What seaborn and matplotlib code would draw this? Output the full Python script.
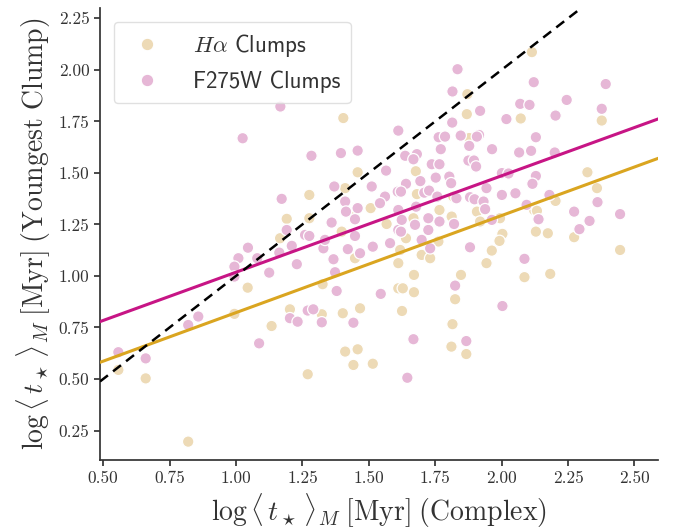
import matplotlib
matplotlib.use("Agg")
import matplotlib.pyplot as plt
import seaborn as sns
import pandas as pd
import numpy as np

# ---------------- data ----------------
ha_x = [1.404, 1.458, 1.411, 1.276, 1.507, 1.191, 1.276, 1.567, 1.166, 1.398,
        1.448, 1.611, 1.044, 1.326, 1.611, 1.467, 1.402, 1.203, 1.323, 1.134,
        0.994, 1.411, 1.458, 1.442, 1.515, 1.270, 0.557, 0.660, 0.820, 2.114,
        1.871, 1.869, 2.072, 2.377, 1.677, 2.323, 2.359, 1.681, 1.818, 1.907,
        2.203, 2.122, 2.133, 1.994, 2.003, 1.992, 1.963, 1.943, 2.129, 2.174,
        2.273, 2.446, 2.086, 2.183, 1.847, 1.825, 1.815, 1.811, 1.867, 1.625,
        1.670, 1.628, 1.670, 1.699, 1.731, 1.762, 1.618, 1.640, 1.766, 1.812,
        1.668, 1.919, 1.444, 1.878]
ha_y = [1.766, 1.503, 1.426, 1.393, 1.329, 1.277, 1.280, 1.252, 1.183, 1.215,
        1.086, 1.062, 0.943, 0.960, 0.940, 0.843, 0.819, 0.838, 0.814, 0.757,
        0.816, 0.633, 0.644, 0.568, 0.574, 0.523, 0.544, 0.503, 0.196, 2.086,
        1.882, 1.785, 1.764, 1.754, 1.508, 1.503, 1.426, 1.397, 1.385, 1.312,
        1.364, 1.320, 1.316, 1.280, 1.204, 1.170, 1.123, 1.062, 1.215, 1.207,
        1.188, 1.126, 0.994, 1.010, 1.005, 0.887, 0.766, 0.657, 0.621, 0.830,
        0.921, 0.940, 1.005, 1.102, 1.086, 1.167, 1.126, 1.183, 1.320, 1.288,
        1.280, 1.264, 1.286, 1.669]

uv_x = [1.167, 1.025, 1.284, 1.395, 1.458, 1.565, 1.611, 1.370, 1.511, 1.172,
        1.561, 1.609, 1.411, 1.414, 1.458, 1.542, 1.611, 1.448, 1.360, 1.191,
        1.260, 1.276, 1.210, 1.163, 1.448, 1.329, 1.421, 1.467, 1.515, 1.580,
        1.611, 1.045, 1.009, 0.994, 0.994, 1.080, 1.125, 1.229, 1.367, 1.373,
        1.379, 1.545, 1.442, 1.203, 1.232, 1.270, 1.291, 1.323, 0.858, 0.820,
        1.087, 0.557, 0.660, 1.834, 1.815, 2.121, 2.392, 1.919, 1.814, 2.070,
        2.105, 2.245, 2.018, 2.203, 2.377, 1.763, 1.787, 1.846, 1.915, 1.907,
        1.878, 1.771, 1.964, 2.066, 2.111, 2.129, 1.637, 1.681, 1.668, 1.737,
        1.766, 1.875, 1.896, 1.904, 1.752, 1.803, 1.810, 1.694, 1.640, 1.621,
        1.709, 1.727, 2.129, 2.116, 2.200, 2.001, 2.026, 1.943, 2.001, 2.052,
        2.180, 1.758, 1.881, 1.830, 1.898, 1.932, 1.938, 2.094, 2.139, 2.273,
        2.331, 2.293, 2.361, 2.446, 2.086, 2.003, 1.881, 1.825, 1.867, 1.645,
        1.668, 1.731, 1.699, 1.621, 1.674, 1.724, 1.724, 1.766, 1.821, 1.624,
        1.963, 1.335, 1.678]
uv_y = [1.822, 1.668, 1.583, 1.596, 1.608, 1.511, 1.705, 1.434, 1.434, 1.374,
        1.385, 1.409, 1.361, 1.312, 1.329, 1.353, 1.320, 1.275, 1.259, 1.223,
        1.199, 1.194, 1.146, 1.113, 1.194, 1.134, 1.130, 1.110, 1.142, 1.159,
        1.223, 1.137, 1.086, 1.045, 0.997, 1.086, 1.016, 1.057, 1.081, 1.018,
        0.927, 0.913, 0.773, 0.795, 0.778, 0.832, 0.838, 0.775, 0.803, 0.762,
        0.673, 0.630, 0.600, 2.003, 1.895, 1.940, 1.931, 1.801, 1.744, 1.835,
        1.830, 1.854, 1.761, 1.778, 1.811, 1.673, 1.676, 1.681, 1.684, 1.676,
        1.631, 1.615, 1.615, 1.599, 1.607, 1.673, 1.583, 1.591, 1.566, 1.542,
        1.542, 1.560, 1.560, 1.531, 1.477, 1.482, 1.450, 1.460, 1.447, 1.409,
        1.404, 1.414, 1.485, 1.447, 1.599, 1.499, 1.497, 1.426, 1.393, 1.401,
        1.393, 1.385, 1.382, 1.377, 1.372, 1.361, 1.324, 1.345, 1.275, 1.312,
        1.267, 1.227, 1.358, 1.300, 1.083, 0.854, 1.139, 0.953, 0.684, 0.506,
        0.693, 1.134, 1.175, 1.215, 1.248, 1.223, 1.280, 1.264, 1.252, 1.272,
        1.272, 1.175, 1.336]

series_names = [r"$H\alpha$ Clumps", "F275W Clumps"]
point_colors = ["#EDDAB6", "#E6B7D6"]
fit_colors = ["#DAA520", "#C71585"]
fit_slopes = [0.471, 0.468]
fit_intercepts = [0.351, 0.550]

xlabel = r"$\log\langle\, t_\star\,\rangle_M\;[\mathrm{Myr}]\;(\mathrm{Complex})$"
ylabel = r"$\log\langle\, t_\star\,\rangle_M\;[\mathrm{Myr}]\;(\mathrm{Youngest\ Clump})$"
xticks = [0.50, 0.75, 1.00, 1.25, 1.50, 1.75, 2.00, 2.25, 2.50]
yticks = [0.25, 0.50, 0.75, 1.00, 1.25, 1.50, 1.75, 2.00, 2.25]

# ---------------- style ----------------
sns.set_theme(style="ticks")
plt.rcParams["font.family"] = "serif"
plt.rcParams["font.serif"] = ["cmr10", "DejaVu Serif"]
plt.rcParams["mathtext.fontset"] = "cm"
plt.rcParams["axes.formatter.use_mathtext"] = True

df = pd.DataFrame({
    "x": ha_x + uv_x,
    "y": ha_y + uv_y,
    "kind": [series_names[0]] * len(ha_x) + [series_names[1]] * len(uv_x),
})

fig = plt.figure(figsize=(6.73, 5.30), dpi=100)
ax = fig.add_axes([0.1486, 0.1321, 0.8296, 0.8528])

sns.scatterplot(data=df, x="x", y="y", hue="kind", hue_order=series_names,
                palette=point_colors, s=68, edgecolor="white", linewidth=0.9,
                ax=ax, zorder=2)

for slope, icpt, col in zip(fit_slopes, fit_intercepts, fit_colors):
    ax.axline((0.0, icpt), slope=slope, color=col, lw=2.2, zorder=3)
ax.axline((0.0, 0.0), slope=1.0, color="black", lw=1.8, ls=(0, (4, 2.6)), zorder=3)

ax.set_xlim(0.488, 2.59)
ax.set_ylim(0.107, 2.30)
ax.set_xticks(xticks)
ax.set_yticks(yticks)
ax.set_xticklabels([f"{t:.2f}" for t in xticks])
ax.set_yticklabels([f"{t:.2f}" for t in yticks])
ax.tick_params(labelsize=12.5, colors="#333333", length=4)
for sp in ax.spines.values():
    sp.set_color("#333333")
sns.despine(ax=ax)

ax.set_xlabel(xlabel, fontsize=20, color="#333333")
ax.set_ylabel(ylabel, fontsize=20, color="#333333")

leg = ax.legend(loc="upper left", prop={"family": "cmss10", "size": 16.5},
                handletextpad=1.0, borderpad=0.45, markerscale=1.1,
                frameon=True, framealpha=0.8, edgecolor="#d9d9d9",
                borderaxespad=0.6)
for txt in leg.get_texts():
    txt.set_color("#333333")

fig.savefig("out.png", dpi=100)
